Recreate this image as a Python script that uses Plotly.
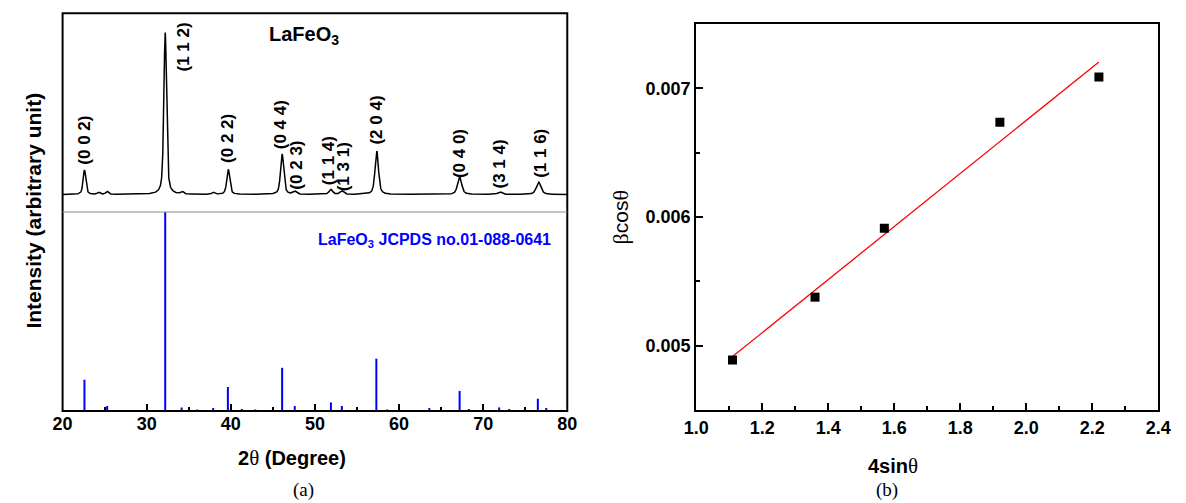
import numpy as np
import plotly.graph_objects as go

xrd_peak_2theta = [22.6, 24.3, 25.3, 32.2, 34.2, 37.9, 39.7, 46.1, 47.6, 51.9, 53.2, 57.35, 67.2, 72.0, 76.6]
xrd_peak_height = [24.5, 2.0, 3.0, 162.0, 2.5, 2.0, 25.0, 40.5, 3.0, 5.0, 3.5, 43.5, 17.5, 2.5, 12.5]
xrd_peak_fwhm = [0.38, 0.4, 0.4, 0.38, 0.4, 0.4, 0.42, 0.45, 0.5, 0.5, 0.5, 0.48, 0.58, 0.6, 0.65]
xrd_background = 17.5

hkl_labels = ["(0 0 2)", "(1 1 2)", "(0 2 2)", "(0 4 4)", "(0 2 3)", "(1 1 4)",
              "(1 3 1)", "(2 0 4)", "(0 4 0)", "(3 1 4)", "(1 1 6)"]
# label anchor (2theta, bottom of the rotated label in pattern units)
hkl_label_x = [22.6, 34.4, 39.6, 45.85, 47.8, 51.6, 53.4, 57.3, 67.2, 72.0, 76.8]
hkl_label_y = [45.3, 138.7, 47.0, 60.3, 20.3, 24.7, 18.7, 65.3, 32.0, 22.0, 32.0]

# ---------------- (a) reference JCPDS 01-088-0641 sticks ----------------
ref_2theta = [22.6, 25.3, 32.2, 34.15, 36.0, 37.9, 39.65, 41.3, 42.9, 46.1, 47.6, 50.5, 51.9,
              53.2, 57.3, 58.6, 61.2, 63.6, 67.2, 68.3, 70.7, 71.9, 73.1, 74.15, 76.5, 77.5, 78.7]
ref_intensity = [15.7, 2.5, 100.0, 1.8, 0.8, 1.5, 12.1, 1.0, 0.8, 21.7, 2.5, 0.5, 4.3,
                 2.5, 26.3, 0.8, 0.5, 1.5, 10.1, 1.0, 0.5, 1.8, 1.0, 0.5, 6.1, 1.5, 0.5]

# ---------------- (b) Williamson-Hall data ----------------
wh_4sin = [1.11, 1.36, 1.57, 1.92, 2.22]
wh_bcos = [0.004889, 0.005377, 0.005912, 0.006736, 0.007088]

# ---------------- build pattern from peak list ----------------
two_theta = np.arange(20.0, 80.0001, 0.02)
intensity = np.full_like(two_theta, xrd_background)
eta = 0.55
for p, h, w in zip(xrd_peak_2theta, xrd_peak_height, xrd_peak_fwhm):
    d = (two_theta - p) / (w / 2.0)
    lor = 1.0 / (1.0 + d ** 2)
    gau = np.exp(-np.log(2.0) * d ** 2)
    intensity += h * (eta * lor + (1 - eta) * gau)

# sticks as segments
stick_x, stick_y = [], []
for p, v in zip(ref_2theta, ref_intensity):
    stick_x += [p, p, None]
    stick_y += [0, v, None]

# linear fit
slope, intercept = np.polyfit(wh_4sin, wh_bcos, 1)
fit_x = np.array([min(wh_4sin), max(wh_4sin)])
fit_y = slope * fit_x + intercept

W, H = 1186, 503
def px(x):
    return x / W
def py(y):
    return 1 - y / H

LX0, LX1 = 50.7, 566.7
LY_TOP, LY_SEP, LY_BOT = 13.3, 212.0, 411.0
RX0, RX1 = 698.5, 1171.0
RY_TOP, RY_BOT = 24.0, 410.0

SANS = "Liberation Sans, Arial, sans-serif"
SERIF = "Liberation Serif, Times New Roman, serif"

fig = go.Figure()
fig.add_trace(go.Scatter(x=two_theta, y=intensity, mode="lines",
                         line=dict(color="black", width=1.5), xaxis="x", yaxis="y2",
                         showlegend=False, hoverinfo="skip"))
fig.add_trace(go.Scatter(x=stick_x, y=stick_y, mode="lines",
                         line=dict(color="#0000ff", width=2), xaxis="x", yaxis="y",
                         showlegend=False, hoverinfo="skip"))
fig.add_trace(go.Scatter(x=fit_x, y=fit_y, mode="lines",
                         line=dict(color="#ff0000", width=1.3), xaxis="x2", yaxis="y3",
                         showlegend=False))
fig.add_trace(go.Scatter(x=wh_4sin, y=wh_bcos, mode="markers",
                         marker=dict(symbol="square", size=9, color="black"),
                         xaxis="x2", yaxis="y3", showlegend=False))

tickfont = dict(family=SANS, size=18, color="black", weight="bold")

fig.update_layout(
    width=W, height=H, margin=dict(l=0, r=0, t=0, b=0), autosize=False,
    paper_bgcolor="white", plot_bgcolor="white",
    xaxis=dict(domain=[px(LX0), px(LX1)], range=[20, 80], anchor="y",
               tickmode="linear", tick0=20, dtick=10, ticks="inside", ticklen=7,
               tickwidth=2, tickcolor="black",
               minor=dict(dtick=5, ticks="inside", ticklen=4, tickwidth=2, tickcolor="black"),
               showgrid=False, zeroline=False, showline=False, tickfont=tickfont),
    yaxis=dict(domain=[py(LY_BOT), py(LY_SEP)], range=[0, 100], anchor="x",
               showticklabels=False, ticks="", showgrid=False, zeroline=False, showline=False),
    yaxis2=dict(domain=[py(LY_SEP), py(LY_TOP)], range=[0, LY_SEP - LY_TOP], anchor="x",
                showticklabels=False, ticks="", showgrid=False, zeroline=False, showline=False),
    xaxis2=dict(domain=[px(RX0), px(RX1)], range=[1.0, 2.4], anchor="y3",
                tickmode="linear", tick0=1.0, dtick=0.2, tickformat=".1f",
                ticks="inside", ticklen=7, tickwidth=2, tickcolor="black",
                minor=dict(dtick=0.1, ticks="inside", ticklen=4, tickwidth=2, tickcolor="black"),
                showline=True, mirror=True, linewidth=2, linecolor="black",
                showgrid=False, zeroline=False, tickfont=tickfont),
    yaxis3=dict(domain=[py(RY_BOT), py(RY_TOP)], range=[0.0045, 0.0075], anchor="x2",
                tickvals=[0.005, 0.006, 0.007], tickformat=".3f",
                ticks="inside", ticklen=7, tickwidth=2, tickcolor="black",
                minor=dict(tickvals=[0.0045, 0.0055, 0.0065], ticks="inside", ticklen=4,
                           tickwidth=2, tickcolor="black"),
                showline=True, mirror=True, linewidth=2, linecolor="black",
                showgrid=False, zeroline=False, tickfont=tickfont),
)

# frame and separator of panel (a)
fig.add_shape(type="rect", xref="paper", yref="paper",
              x0=px(LX0), x1=px(LX1), y0=py(LY_BOT), y1=py(LY_TOP),
              line=dict(color="black", width=2))
fig.add_shape(type="line", xref="paper", yref="paper",
              x0=px(LX0), x1=px(LX1), y0=py(LY_SEP), y1=py(LY_SEP),
              line=dict(color="#8c8c8c", width=1))

# hkl labels
for t, lx, ly in zip(hkl_labels, hkl_label_x, hkl_label_y):
    fig.add_annotation(x=lx, y=ly, xref="x", yref="y2", text=t, textangle=-90,
                       showarrow=False, xanchor="center", yanchor="bottom",
                       font=dict(family=SANS, size=17, color="black", weight="bold"))

def pa(text, x, y, size, weight="normal", color="black", angle=0, family=SANS):
    fig.add_annotation(x=px(x), y=py(y), xref="paper", yref="paper", text=text,
                       textangle=angle, showarrow=False, xanchor="center", yanchor="middle",
                       font=dict(family=family, size=size, color=color, weight=weight))

def greek(ch, size):
    return ("<span style='font-family:Liberation Serif;font-weight:normal;font-size:%dpx'>%s</span>"
            % (size, ch))

pa("LaFeO<sub>3</sub>", 298, 35, 20, "bold")
pa("LaFeO<sub>3</sub> JCPDS no.01-088-0641", 431, 240, 16, "bold", color="#0000ff")
pa("Intensity (arbitrary unit)", 20, 211, 21, "bold", angle=-90)
pa("2" + greek("θ", 21) + " (Degree)", 285, 458, 20, "bold")
pa("(a)", 297, 490, 19, family=SERIF)
pa(greek("β", 22) + "cos" + greek("θ", 22), 621, 217, 21, angle=-90)
pa("4sin" + greek("θ", 21), 900, 466, 20, "bold")
pa("(b)", 894, 490, 19, family=SERIF)

fig.write_html(
    "out.html",
    config={"displayModeBar": False},
    post_script="document.body.style.margin='0px';document.body.style.overflow='hidden';",
)
